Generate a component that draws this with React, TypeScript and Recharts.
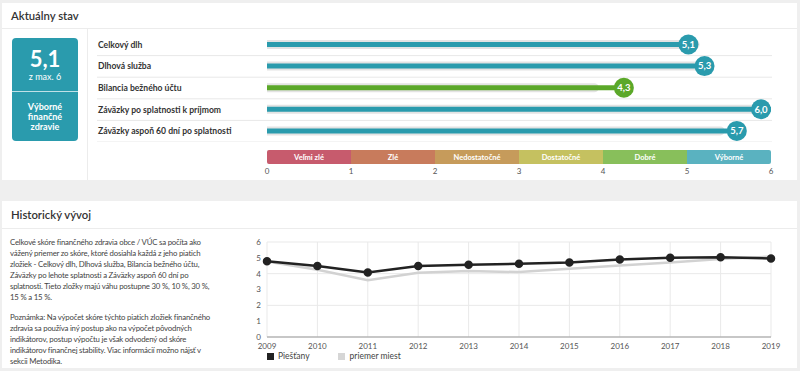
import React from 'react'
import {
  BarChart,
  Bar,
  XAxis,
  YAxis,
  Cell,
  LabelList,
  LineChart,
  Line,
  CartesianGrid,
} from 'recharts'

// current state
const totalScore = 5.1
const maxScore = 6
const ratingLabel = ['Výborné', 'finančné', 'zdravie']

const componentNames = [
  'Celkový dlh',
  'Dlhová služba',
  'Bilancia bežného účtu',
  'Záväzky po splatnosti k príjmom',
  'Záväzky aspoň 60 dní po splatnosti',
]
const componentScores = [5.1, 5.3, 4.3, 6.0, 5.7]
const componentAverages = [5.15, 5.25, 3.95, 6.0, 5.45]
const componentColors = ['#2a9bad', '#2a9bad', '#5ba829', '#2a9bad', '#2a9bad']

// rating scale
const ratingNames = ['Veľmi zlé', 'Zlé', 'Nedostatočné', 'Dostatočné', 'Dobré', 'Výborné']
const ratingWidths = [1, 1, 1, 1, 1, 1]
const ratingColors = ['#c75b6d', '#c87b5c', '#c69b5b', '#c5c160', '#88bf5b', '#5ab2c0']
const scaleTicks = [0, 1, 2, 3, 4, 5, 6]

// history
const years = ['2009', '2010', '2011', '2012', '2013', '2014', '2015', '2016', '2017', '2018', '2019']
const townScores = [4.79, 4.48, 4.07, 4.48, 4.56, 4.63, 4.71, 4.9, 5.01, 5.03, 4.96]
const cityAverage = [4.77, 4.25, 3.58, 4.06, 4.17, 4.1, 4.31, 4.52, 4.71, 4.92, 5.08]
const historyTicks = [0, 1, 2, 3, 4, 5, 6]

const FONT = 'Lato, sans-serif'
const fmt = (v: number) => v.toFixed(1).replace('.', ',')

// bar chart geometry
const CHART_W = 690
const AXIS_W = 170
const MARGIN_R = 16
const PLOT_W = CHART_W - AXIS_W - MARGIN_R
const ROWS_H = 108
const BAND = ROWS_H / componentNames.length

const rows = componentNames.map((name, i) => ({
  name,
  score: componentScores[i],
  avg: componentAverages[i],
}))

const ratingRow = [
  ratingWidths.reduce((o, w, i) => ({ ...o, [`r${i}`]: w }), { name: 'rating' } as Record<string, any>),
]

const history = years.map((year, i) => ({
  year,
  town: townScores[i],
  avg: cityAverage[i],
}))

// eslint-disable-next-line @typescript-eslint/no-explicit-any
function RowTick({ y, payload }: any) {
  return (
    <g>
      <text x={1} y={y} dy="0.35em" textAnchor="start" fontSize={8.6} fontWeight={700} fill="#333" fontFamily={FONT}>
        {payload.value}
      </text>
      <line x1={0} x2={675} y1={y + BAND / 2} y2={y + BAND / 2} stroke="#e8e8e8" />
    </g>
  )
}

// eslint-disable-next-line @typescript-eslint/no-explicit-any
function ScoreBadge({ x, y, width, height, value, index }: any) {
  const r = 10
  const cx = x + r + (width * (PLOT_W - 2 * r)) / PLOT_W
  const cy = y + height / 2
  return (
    <g>
      <circle cx={cx} cy={cy} r={r} fill={componentColors[index]} />
      <text x={cx} y={cy} dy="0.35em" textAnchor="middle" fontSize={9.5} fontWeight={700} fill="#fff" fontFamily={FONT}>
        {fmt(value)}
      </text>
    </g>
  )
}

function ratingLabelFor(i: number) {
  // eslint-disable-next-line @typescript-eslint/no-explicit-any
  return function RatingText({ x, y, width, height }: any) {
    return (
      <text x={x + width / 2} y={y + height / 2} dy="0.35em" textAnchor="middle" fontSize={7.5} fontWeight={700} fill="#fff" fontFamily={FONT}>
        {ratingNames[i]}
      </text>
    )
  }
}

const bodyText = {
  position: 'absolute' as const,
  left: 10,
  fontSize: 7.8,
  letterSpacing: -0.2,
  lineHeight: '11px',
  color: '#444',
  whiteSpace: 'nowrap' as const,
}

export default function App() {
  return (
    <div
      style={{
        position: 'absolute',
        left: 0,
        top: 0,
        width: 800,
        height: 371,
        background: '#efefef',
        fontFamily: FONT,
        overflow: 'hidden',
        color: '#333',
      }}
    >
      {/* top panel */}
      <div style={{ position: 'absolute', left: 2, top: 3, width: 795, height: 177, background: '#fff' }} />
      <div style={{ position: 'absolute', left: 2, top: 28, width: 795, height: 1, background: '#ececec' }} />
      <div style={{ position: 'absolute', left: 87, top: 29, width: 1, height: 151, background: '#ececec' }} />
      <div style={{ position: 'absolute', left: 11, top: 8, fontSize: 11.3, fontWeight: 600, lineHeight: '16px' }}>
        Aktuálny stav
      </div>

      <div
        style={{
          position: 'absolute',
          left: 12,
          top: 38,
          width: 66,
          height: 103,
          background: '#2a9bad',
          borderRadius: 4,
          color: '#fff',
          textAlign: 'center',
        }}
      >
        <div style={{ position: 'absolute', left: 0, right: 0, top: 12, fontSize: 22, fontWeight: 700, lineHeight: '18px' }}>
          {fmt(totalScore)}
        </div>
        <div style={{ position: 'absolute', left: 0, right: 0, top: 34, fontSize: 9, lineHeight: '10px' }}>
          z max. {maxScore}
        </div>
        <div style={{ position: 'absolute', left: 0, right: 0, top: 53, height: 1, background: 'rgba(255,255,255,0.7)' }} />
        <div style={{ position: 'absolute', left: 0, right: 0, top: 64, fontSize: 9, fontWeight: 700, lineHeight: '10px' }}>
          {ratingLabel.map((t) => (
            <div key={t}>{t}</div>
          ))}
        </div>
      </div>

      <div style={{ position: 'absolute', left: 97, top: 34 }}>
        <BarChart
          layout="vertical"
          width={CHART_W}
          height={ROWS_H}
          data={rows}
          margin={{ top: 0, right: MARGIN_R, bottom: 0, left: 0 }}
          barCategoryGap={0}
        >
          <XAxis type="number" domain={[0, 6]} hide />
          <YAxis
            yAxisId="bg"
            type="category"
            dataKey="name"
            width={AXIS_W}
            axisLine={false}
            tickLine={false}
            interval={0}
            tick={<RowTick />}
          />
          <YAxis yAxisId="fg" type="category" dataKey="name" hide />
          <Bar yAxisId="bg" dataKey="avg" fill="#e3e3e3" barSize={9} radius={[0, 4.5, 4.5, 0]} isAnimationActive={false} />
          <Bar yAxisId="fg" dataKey="score" barSize={5} isAnimationActive={false}>
            {rows.map((_, i) => (
              <Cell key={i} fill={componentColors[i]} />
            ))}
            <LabelList dataKey="score" content={<ScoreBadge />} />
          </Bar>
        </BarChart>
      </div>

      <div style={{ position: 'absolute', left: 97, top: 150 }}>
        <BarChart
          layout="vertical"
          width={CHART_W}
          height={32}
          data={ratingRow}
          margin={{ top: 0, right: MARGIN_R, bottom: 0, left: AXIS_W }}
          barCategoryGap={0}
        >
          <XAxis
            type="number"
            domain={[0, 6]}
            ticks={scaleTicks}
            height={18}
            axisLine={false}
            tickLine={false}
            tickSize={0}
            tickMargin={4}
            tick={{ fontSize: 8, fill: '#555', fontFamily: FONT }}
            interval={0}
          />
          <YAxis type="category" dataKey="name" hide />
          {ratingNames.map((n, i) => (
            <Bar
              key={n}
              dataKey={`r${i}`}
              stackId="r"
              fill={ratingColors[i]}
              isAnimationActive={false}
              radius={i === 0 ? [2, 0, 0, 2] : i === ratingNames.length - 1 ? [0, 2, 2, 0] : 0}
            >
              <LabelList content={ratingLabelFor(i)} />
            </Bar>
          ))}
        </BarChart>
      </div>

      {/* bottom panel */}
      <div style={{ position: 'absolute', left: 2, top: 201, width: 795, height: 167, background: '#fff' }} />
      <div style={{ position: 'absolute', left: 2, top: 228, width: 795, height: 1, background: '#ececec' }} />
      <div style={{ position: 'absolute', left: 11, top: 207, fontSize: 11.3, fontWeight: 600, lineHeight: '16px' }}>
        Historický vývoj
      </div>

      <div style={{ ...bodyText, top: 237 }}>
        <div>Celkové skóre finančného zdravia obce / VÚC sa počíta ako</div>
        <div>vážený priemer zo skóre, ktoré dosiahla každá z jeho piatich</div>
        <div>zložiek - Celkový dlh, Dlhová služba, Bilancia bežného účtu,</div>
        <div>Záväzky po lehote splatnosti a Záväzky aspoň 60 dní po</div>
        <div>splatnosti. Tieto zložky majú váhu postupne 30 %, 10 %, 30 %,</div>
        <div>15 % a 15 %.</div>
      </div>
      <div style={{ ...bodyText, top: 312 }}>
        <div>Poznámka: Na výpočet skóre týchto piatich zložiek finančného</div>
        <div>zdravia sa používa iný postup ako na výpočet pôvodných</div>
        <div>indikátorov, postup výpočtu je však odvodený od skóre</div>
        <div>indikátorov finančnej stability. Viac informácií možno nájsť v</div>
        <div>sekcii Metodika.</div>
      </div>

      <div style={{ position: 'absolute', left: 240, top: 236 }}>
        <LineChart width={545} height={115} data={history} margin={{ top: 6, right: 14, bottom: 0, left: 0 }}>
          <CartesianGrid stroke="#e9e9e9" />
          <XAxis
            dataKey="year"
            height={14}
            axisLine={{ stroke: '#9a9a9a' }}
            tickLine={false}
            tickSize={0}
            tickMargin={6}
            interval={0}
            tick={{ fontSize: 8, fill: '#555', fontFamily: FONT }}
          />
          <YAxis
            domain={[0, 6]}
            ticks={historyTicks}
            width={27}
            axisLine={false}
            tickLine={false}
            tickSize={4}
            tickMargin={2}
            tick={{ fontSize: 8, fill: '#555', fontFamily: FONT }}
          />
          <Line dataKey="avg" stroke="#d2d2d2" strokeWidth={2.5} dot={false} isAnimationActive={false} />
          <Line
            dataKey="town"
            stroke="#222"
            strokeWidth={2.5}
            dot={{ r: 3, fill: '#222', stroke: '#222' }}
            isAnimationActive={false}
          />
        </LineChart>
      </div>

      <div style={{ position: 'absolute', left: 267, top: 351, fontSize: 8.5, lineHeight: '11px', color: '#444', display: 'flex', alignItems: 'center' }}>
        <span style={{ width: 7, height: 7, background: '#222', marginRight: 4 }} />
        <span style={{ marginRight: 28 }}>Piešťany</span>
        <span style={{ width: 7, height: 7, background: '#d6d6d6', marginRight: 5 }} />
        <span>priemer miest</span>
      </div>
    </div>
  )
}
